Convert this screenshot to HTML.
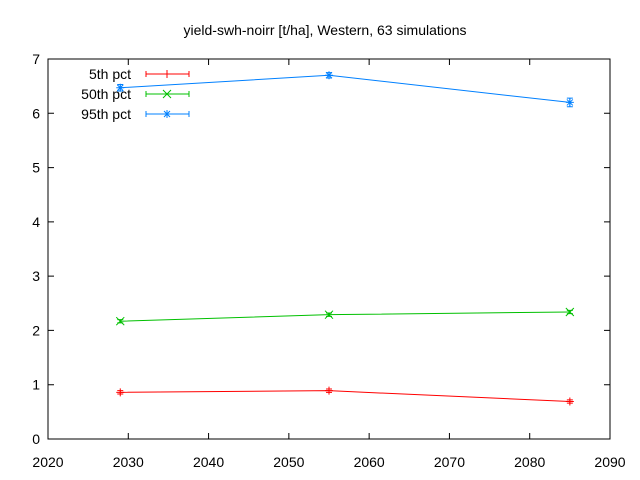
<!DOCTYPE html>
<html><head><meta charset="utf-8"><style>
body{margin:0;background:#fff}
svg{display:block;font-family:"Liberation Sans",sans-serif}
</style></head><body>
<svg id="c" width="640" height="480" viewBox="0 0 640 480">
<text x="325" y="35" font-size="14" text-anchor="middle">yield-swh-noirr [t/ha], Western, 63 simulations</text>
<rect x="48" y="59" width="562" height="380" fill="none" stroke="#000" stroke-width="1"/>
<g id="axes"></g><g id="series"></g><g id="legend"></g>
</svg>
<script>
const years=[2029,2055,2085];
const xTicks=[2020,2030,2040,2050,2060,2070,2080,2090];
const yTicks=[0,1,2,3,4,5,6,7];
const names=["5th pct","50th pct","95th pct"];
const colors=["#ff0000","#00c000","#0080ff"];
const p5=[0.86,0.89,0.69];
const p50=[2.17,2.29,2.34];
const p95=[6.47,6.70,6.20];
const err5=[0.03,0.03,0.03];
const err50=[0.03,0.03,0.03];
const err95=[0.06,0.05,0.08];
const series=[p5,p50,p95], errs=[err5,err50,err95];
const NS="http://www.w3.org/2000/svg";
const X=v=>48+(v-2020)/70*562, Y=v=>439-v/7*380;
function mk(t,a,p){const e=document.createElementNS(NS,t);for(const k in a)e.setAttribute(k,a[k]);p.appendChild(e);return e;}
const ax=document.getElementById('axes');
xTicks.forEach(t=>{
 const l=mk('path',{d:`M${X(t)},439v-6M${X(t)},59v6`,stroke:'#000'},ax);
 
 
 const tx=mk('text',{x:X(t),y:467,'font-size':14,'text-anchor':'middle'},ax);tx.textContent=t;
 
 
});
yTicks.forEach(t=>{
 const l=mk('path',{d:`M48,${Y(t)}h6M610,${Y(t)}h-6`,stroke:'#000'},ax);
 
 
 const tx=mk('text',{x:40,y:Y(t)+5,'font-size':14,'text-anchor':'end'},ax);tx.textContent=t;
 
 
});
function marker(i,x,y,g){
 let d;
 if(i==0)d=`M${x-4},${y}h8M${x},${y-4}v8`;
 else if(i==1)d=`M${x-4},${y-4}l8,8M${x-4},${y+4}l8,-8`;
 else d=`M${x-4},${y}h8M${x},${y-4}v8M${x-3},${y-3}l6,6M${x-3},${y+3}l6,-6`;
 return mk('path',{d,stroke:colors[i],fill:'none'},g);
}
const sg=document.getElementById('series');
series.forEach((s,i)=>{
 const g=mk('g',{},sg);
 
 
 const pl=mk('polyline',{points:years.map((y,j)=>X(y)+','+Y(s[j])).join(' '),fill:'none',stroke:colors[i]},g);
 
 
 years.forEach((y,j)=>{
  const x=X(y),e=errs[i][j];
  const eb=mk('path',{d:`M${x},${Y(s[j]-e)}V${Y(s[j]+e)}M${x-3},${Y(s[j]-e)}h6M${x-3},${Y(s[j]+e)}h6`,stroke:colors[i]},g);
  
  
  const m=marker(i,x,Y(s[j]),g);
  
  
 });
});
const lg=document.getElementById('legend');
names.forEach((n,i)=>{
 const y=74+i*20;
 const g=mk('g',{},lg);
 
 
 const t=mk('text',{x:131,y:y+5,'font-size':14,'text-anchor':'end'},g);t.textContent=n;
 mk('path',{d:`M146,${y}h43M146,${y-3}v6M189,${y-3}v6`,stroke:colors[i]},g);
 marker(i,167,y,g);
});
</script>
</body></html>
